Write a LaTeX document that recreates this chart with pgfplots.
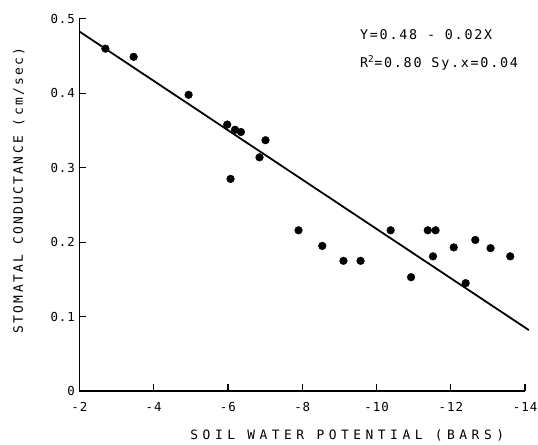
\documentclass[border=0pt]{standalone}
\usepackage{pgfplots}
\pgfplotsset{compat=1.18}
\usepackage{fontspec}
\setmainfont{DejaVu Sans Mono}[LetterSpace=8]
\newfontfamily\xlabfont{DejaVu Sans Mono}[LetterSpace=35]
\newfontfamily\ylabfont{DejaVu Sans Mono}[LetterSpace=18]
\newfontfamily\notefont{DejaVu Sans Mono}[LetterSpace=13]

\begin{document}
\begin{tikzpicture}
% the axis sits with its south west corner at (0,0)
\path[use as bounding box] (-80pt,-54pt) rectangle (462pt,394pt);
\begin{axis}[
    scale only axis,
    width=449pt, height=375pt,
    x dir=reverse,
    xmin=-14, xmax=-2,
    ymin=0, ymax=0.5,
    axis x line*=bottom,
    axis y line*=left,
    axis line style={line width=1.5pt, -},
    tick align=inside,
    major tick length=7pt,
    tick style={line width=1.2pt, black},
    xtick={-2,-4,-6,-8,-10,-12,-14},
    xticklabels={-2,-4,-6,-8,-10,-12,-14},
    ytick={0,0.1,0.2,0.3,0.4,0.5},
    yticklabels={0,0.1,0.2,0.3,0.4,0.5},
    ticklabel style={font=\fontsize{12.5}{15}\selectfont},
    xticklabel style={yshift=-8pt},
    yticklabel style={xshift=-1pt},
    xlabel={\xlabfont SOIL WATER POTENTIAL (BARS)},
    ylabel={\ylabfont STOMATAL CONDUCTANCE (cm/sec)},
    xlabel style={font=\fontsize{13}{15}\selectfont, at={(0.601,-0.12)}, anchor=center},
    ylabel style={font=\fontsize{13}{15}\selectfont, at={(-0.136,0.539)}, anchor=center},
    clip=false,
]
% observed points
\addplot[only marks, mark=*, mark size=3.9pt, black] coordinates {
    (-2.70,0.460) (-3.46,0.449) (-4.94,0.398) (-5.98,0.358) (-6.19,0.351)
    (-6.35,0.348) (-6.07,0.285) (-6.85,0.314) (-7.01,0.337) (-7.90,0.216)
    (-8.54,0.195) (-9.11,0.175) (-9.57,0.175) (-10.38,0.216) (-10.93,0.153)
    (-11.38,0.216) (-11.59,0.216) (-11.52,0.181) (-12.08,0.193) (-12.40,0.145)
    (-12.66,0.203) (-13.07,0.192) (-13.60,0.181)
};
% regression line
\addplot[black, line width=1.8pt] coordinates {(-2,0.483) (-14.1,0.082)};
\node[anchor=base west, font=\fontsize{13.5}{15}\selectfont\notefont] at (rel axis cs:0.622,0.944) {Y=0.48 - 0.02X};
\node[anchor=base west, font=\fontsize{13.5}{15}\selectfont\notefont] at (rel axis cs:0.622,0.869) {R\textsuperscript{2}=0.80 Sy.x=0.04};
\end{axis}
\end{tikzpicture}
\end{document}
